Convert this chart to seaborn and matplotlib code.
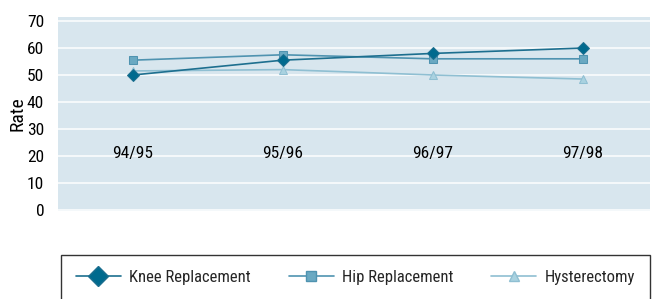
import pandas as pd
import numpy as np
import matplotlib.pyplot as plt
import seaborn as sns
from matplotlib.lines import Line2D

# -----------------------------
# DATA
# -----------------------------
years = ['94/95', '95/96', '96/97', '97/98']
knee = [50, 55.5, 58, 60]
hip = [55.5, 57.5, 56, 56]
hyst = [51.5, 52, 50, 48.5]

df = pd.DataFrame({
    'year': years * 3,
    'rate': knee + hip + hyst,
    'procedure': ['Knee Replacement'] * 4 + ['Hip Replacement'] * 4 + ['Hysterectomy'] * 4,
})

# -----------------------------
# STYLE
# -----------------------------
sns.set_style("white")
plt.rcParams['font.family'] = ['Roboto Condensed', 'DejaVu Sans']

line_colors = {'Knee Replacement': '#1d6f8f', 'Hip Replacement': '#4f93b0', 'Hysterectomy': '#8fbfd2'}
face_colors = {'Knee Replacement': '#006a8e', 'Hip Replacement': '#6aa9c2', 'Hysterectomy': '#a9d2e0'}
markers = {'Knee Replacement': 'D', 'Hip Replacement': 's', 'Hysterectomy': '^'}

fig = plt.figure(figsize=(6.52, 2.99), dpi=100)
ax = fig.add_axes([0.089, 0.294, 0.908, 0.649])
ax.set_facecolor('#d8e6ee')

order = ['Hysterectomy', 'Hip Replacement', 'Knee Replacement']
for name in order:
    sub = df[df['procedure'] == name]
    sns.lineplot(data=sub, x='year', y='rate', ax=ax, color=line_colors[name],
                 linewidth=1.2, marker=markers[name], markersize=6,
                 markerfacecolor=face_colors[name], markeredgecolor=line_colors[name],
                 sort=False, legend=False)

ax.set_ylim(-0.5, 71.5)
ax.set_yticks(range(0, 71, 10))
ax.set_xlim(-0.5, 3.45)
ax.yaxis.grid(True, color='white', linewidth=1.4, alpha=0.75)
ax.set_axisbelow(True)
ax.xaxis.set_zorder(2.5)
for s in ax.spines.values():
    s.set_visible(False)

ax.set_xlabel('')
ax.set_ylabel('Rate', fontsize=14, labelpad=0, color='black')
ax.tick_params(axis='y', length=0, labelsize=12.5, pad=10, labelcolor='black')
ax.tick_params(axis='x', length=0, labelsize=12.5, pad=-47, labelcolor='black')

# -----------------------------
# LEGEND
# -----------------------------
handles = []
for name in ['Knee Replacement', 'Hip Replacement', 'Hysterectomy']:
    handles.append(Line2D([0], [0], color=line_colors[name], linewidth=1.2,
                          marker=markers[name], markersize=10 if name == 'Knee Replacement' else 7,
                          markerfacecolor=face_colors[name], markeredgecolor=line_colors[name],
                          label=name))
leg = fig.legend(handles=handles, loc='lower left', ncol=3, mode='expand',
                 bbox_to_anchor=(0.0935, -0.004, 0.9035, 0.16), frameon=True, fancybox=False,
                 fontsize=12, handlelength=2.7, borderpad=0.9, handletextpad=0.5,
                 borderaxespad=0)
leg.get_frame().set_edgecolor('black')
leg.get_frame().set_linewidth(1.0)

plt.savefig('out.png', dpi=100)
